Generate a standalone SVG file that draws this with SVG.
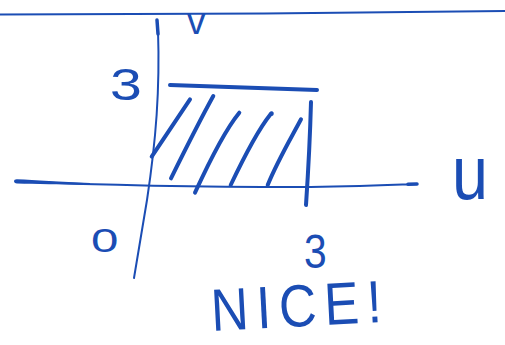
<svg xmlns="http://www.w3.org/2000/svg" width="505" height="345" viewBox="0 0 505 345">
<style>
.ink{fill:none;stroke:#1b4db4;stroke-linecap:round;stroke-linejoin:round}
.thin{stroke-width:2}
.thick{stroke-width:4}
.lbl{fill:#1b4db4;font-family:"Liberation Sans",Arial,sans-serif}
</style>
<rect width="505" height="345" fill="#ffffff"/>
<g id="top-line">
<path class="ink thin" d="M0,14.5 C150,15 350,13 505,11"/>
</g>
<g id="v-axis">
<path class="ink" stroke-width="3.5" d="M157,20 L158,34"/>
<path class="ink thin" d="M158,30 C160,90 156,140 147,200 L134,278"/>
<text class="lbl" x="187" y="34" font-size="37">v</text>
</g>
<g id="u-axis">
<path fill="#1b4db4" d="M14,181 Q14,179.2 17,179.3 C35,180 60,181.8 90,182.9 L90,184.9 C60,184.6 35,184 17,183.5 Q14,183.4 14,181 Z"/>
<path class="ink thin" d="M16,181.5 C100,185 200,187 300,187 C350,187 390,185 417,184"/>
<path class="ink" stroke-width="3.5" d="M408,184.3 L417,184"/>
<text class="lbl" transform="translate(452,199) scale(1.2,1.4)" font-size="54">u</text>
</g>
<g id="region">
<path class="ink thick" d="M170,85 L317,90"/>
<path class="ink thick" d="M311,102 C310,140 308,175 306,205"/>
<path class="ink thick" d="M151.7,156.7 L190,99.3"/>
<path class="ink thick" d="M171,178.3 C185,150 200,120 213.3,96"/>
<path class="ink thick" d="M195,192.7 C210,160 225,130 239.3,112.7"/>
<path class="ink thick" d="M230.7,185 C245,155 258,130 270,115 Q272,112 271.7,114"/>
<path class="ink thick" d="M267.7,185 C278,160 290,140 301,119.3"/>
</g>
<g id="ticks">
<text class="lbl" transform="translate(110,100) scale(1.3,1)" font-size="44">3</text>
<text class="lbl" transform="translate(91,252) scale(1.45,1)" font-size="34">0</text>
<text class="lbl" transform="translate(304,268) scale(0.85,1)" font-size="48">3</text>
</g>
<g id="note">
<text class="lbl" font-size="52" letter-spacing="8" transform="translate(212,331) rotate(-3) scale(1,1.15)">NICE!</text>
</g>
</svg>
